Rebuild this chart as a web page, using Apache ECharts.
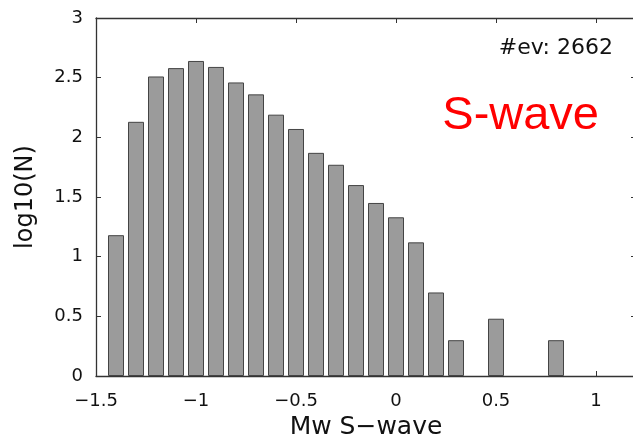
<!DOCTYPE html>
<html>
<head>
<meta charset="utf-8">
<script src="https://cdn.jsdelivr.net/npm/echarts@6/dist/echarts.min.js"></script>
<style>
html,body{margin:0;padding:0;background:#fff;}
#chart{width:633px;height:444px;}
</style>
</head>
<body>
<div id="chart"></div>
<script>
// Magnitude bin centres (Mw) and log10 of event counts
var mwBins = [-1.4, -1.3, -1.2, -1.1, -1.0, -0.9, -0.8, -0.7, -0.6, -0.5, -0.4, -0.3, -0.2, -0.1, 0.0, 0.1, 0.2, 0.3, 0.5, 0.8];
var log10N = [1.18, 2.13, 2.51, 2.58, 2.64, 2.59, 2.46, 2.36, 2.19, 2.07, 1.87, 1.77, 1.60, 1.45, 1.33, 1.12, 0.70, 0.30, 0.48, 0.30];
var xTicks = [-1.5, -1, -0.5, 0, 0.5, 1];
var yTicks = [0, 0.5, 1, 1.5, 2, 2.5, 3];
var xTitle = 'Mw S\u2212wave';
var yTitle = 'log10(N)';
var evLabel = '#ev: 2662';
var waveLabel = 'S-wave';

var barData = mwBins.map(function (m, i) { return [m, log10N[i]]; });
var fmt = function (v) { return String(+v.toFixed(2)).replace('-', '\u2212'); };

var axisColor = '#333';
var tickFont = { fontFamily: 'DejaVu Sans', fontSize: 18, color: '#111' };

var chart = echarts.init(document.getElementById('chart'), null, { renderer: 'canvas' });
chart.setOption({
  animation: false,
  backgroundColor: '#fff',
  grid: { left: 96, top: 18, width: 540, height: 358, containLabel: false, outerBoundsMode: 'none' },
  xAxis: [{
    type: 'value', position: 'bottom',
    min: xTicks[0], max: 1.2, interval: 0.5,
    axisLine: { show: true, onZero: false, lineStyle: { color: axisColor, width: 1.3 } },
    axisTick: { show: true, inside: true, length: 5, lineStyle: { color: axisColor } },
    axisLabel: Object.assign({ margin: 16, formatter: fmt, showMaxLabel: false }, tickFont),
    splitLine: { show: false },
    name: xTitle, nameLocation: 'middle', nameGap: 33,
    nameTextStyle: { fontFamily: 'DejaVu Sans', fontSize: 25, color: '#111' }
  }, {
    type: 'value', position: 'top',
    min: xTicks[0], max: 1.2, interval: 0.5,
    axisLine: { show: true, onZero: false, lineStyle: { color: axisColor, width: 1.3 } },
    axisTick: { show: true, inside: true, length: 5, lineStyle: { color: axisColor } },
    axisLabel: { show: false },
    splitLine: { show: false }
  }],
  yAxis: [{
    type: 'value', position: 'left',
    min: yTicks[0], max: yTicks[yTicks.length - 1], interval: 0.5,
    axisLine: { show: true, onZero: false, lineStyle: { color: axisColor, width: 1.3 } },
    axisTick: { show: true, inside: true, length: 5, lineStyle: { color: axisColor } },
    axisLabel: Object.assign({ margin: 13, formatter: fmt }, tickFont),
    splitLine: { show: false },
    name: yTitle, nameLocation: 'middle', nameGap: 58, nameRotate: 90,
    nameTextStyle: { fontFamily: 'DejaVu Sans', fontSize: 24, color: '#111' }
  }, {
    type: 'value', position: 'right',
    min: yTicks[0], max: yTicks[yTicks.length - 1], interval: 0.5,
    axisLine: { show: true, onZero: false, lineStyle: { color: axisColor, width: 1.3 } },
    axisTick: { show: true, inside: true, length: 5, lineStyle: { color: axisColor } },
    axisLabel: { show: false },
    splitLine: { show: false }
  }],
  series: [{
    type: 'bar',
    xAxisIndex: 0, yAxisIndex: 0,
    data: barData,
    barWidth: 16,
    itemStyle: { color: '#9b9b9b', borderColor: '#444', borderWidth: 1 }
  }],
  graphic: [{
    type: 'text', right: 20, top: 37,
    style: { text: evLabel, font: '22px "DejaVu Sans"', fill: '#111' }
  }, {
    type: 'text', right: 34, top: 93,
    style: { text: waveLabel, font: '47px "Liberation Sans"', fill: '#ff0000' }
  }]
});
</script>
</body>
</html>
